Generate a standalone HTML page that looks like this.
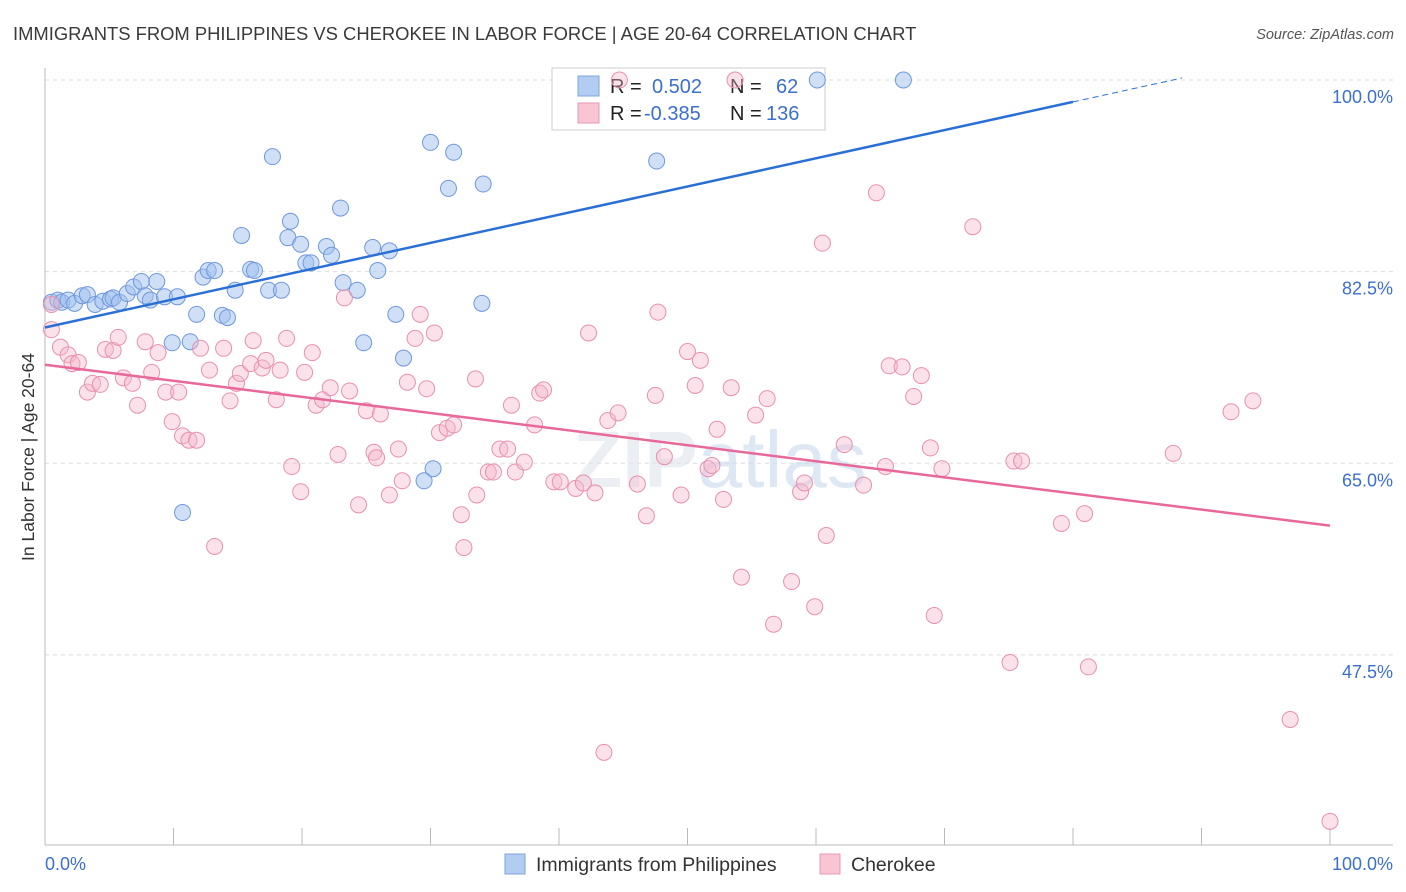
<!DOCTYPE html>
<html><head><meta charset="utf-8"><style>
body{margin:0;background:#fff;font-family:"Liberation Sans",sans-serif}
svg{display:block}
</style></head><body>
<svg id="chart" width="1406" height="892" xmlns="http://www.w3.org/2000/svg" font-family="Liberation Sans, sans-serif">
<text x="13" y="40" font-size="18.4" fill="#3a3a3a">IMMIGRANTS FROM PHILIPPINES VS CHEROKEE IN LABOR FORCE | AGE 20-64 CORRELATION CHART</text>
<text x="1394" y="39" font-size="14.5" fill="#555" text-anchor="end" font-style="italic">Source: ZipAtlas.com</text>
<g id="grid"></g>
<text x="720" y="487" font-size="80" text-anchor="middle" fill="#dfe3ea" font-weight="bold" opacity="0.6">ZIP<tspan fill="#c9daf0" font-weight="normal">atlas</tspan></text>
<g id="axes"></g>
<g>
<rect x="552" y="68" width="273" height="62" fill="#fff" stroke="#ccc"/>
<rect x="578" y="76" width="21" height="20" fill="#b3cdf2" stroke="#7ba3e0"/>
<rect x="578" y="103" width="21" height="20" fill="#f9c4d4" stroke="#e899b4"/>
<text x="610" y="93" font-size="20" fill="#222">R = <tspan fill="#3b6fd0" x="652">0.502</tspan><tspan fill="#222" x="730">N =</tspan><tspan fill="#3b6fd0" x="776">62</tspan></text>
<text x="610" y="120" font-size="20" fill="#222">R = <tspan fill="#3b6fd0" x="644">-0.385</tspan><tspan fill="#222" x="730">N =</tspan><tspan fill="#3b6fd0" x="766">136</tspan></text>
</g>
<g id="pts"></g>
<g id="trend"></g>
<text transform="translate(34,457) rotate(-90)" font-size="17.5" fill="#333" text-anchor="middle">In Labor Force | Age 20-64</text>
<g>
<rect x="505" y="854" width="20" height="20" fill="#b3cdf2" stroke="#7ba3e0"/>
<text x="536" y="871" font-size="19.5" fill="#333">Immigrants from Philippines</text>
<rect x="820" y="854" width="20" height="20" fill="#f9c4d4" stroke="#e899b4"/>
<text x="851" y="871" font-size="19.5" fill="#333">Cherokee</text>
</g>
</svg>
<script>
const yTicks=[100,82.5,65,47.5];
const yTickLabels=["100.0%","82.5%","65.0%","47.5%"];
const xTicks=[0,10,20,30,40,50,60,70,80,90,100];
const blueX=[0.5,1.0,1.3,1.8,2.3,2.9,3.3,3.9,4.5,5.1,5.3,5.8,6.4,6.9,7.5,7.8,8.2,8.7,9.3,10.3,9.9,11.3,11.8,12.3,12.7,13.2,13.8,14.2,14.8,15.3,16.0,16.3,17.4,17.7,18.4,18.9,19.1,19.9,20.3,20.7,21.9,22.3,23.0,23.2,24.3,24.8,25.5,25.9,26.8,27.3,27.9,29.5,30.2,30.0,31.4,31.8,34.1,34.0,47.6,60.1,66.8,10.7];
const blueY=[79.7,79.9,79.7,79.9,79.6,80.3,80.4,79.5,79.8,80.0,80.1,79.7,80.5,81.1,81.6,80.3,79.9,81.6,80.2,80.2,76.0,76.1,78.6,82.0,82.6,82.6,78.5,78.3,80.8,85.8,82.7,82.6,80.8,93.0,80.8,85.6,87.1,85.0,83.3,83.3,84.8,84.0,88.3,81.5,80.8,76.0,84.7,82.6,84.4,78.6,74.6,63.4,64.5,94.3,90.1,93.4,90.5,79.6,92.6,100.0,100.0,60.5];
const pinkX=[0.5,1.2,1.8,2.1,2.6,3.3,3.7,4.3,4.7,5.3,5.7,6.1,6.8,7.2,7.8,8.3,8.8,9.4,9.9,10.4,10.7,11.2,11.8,12.1,12.8,13.2,13.9,14.4,14.9,15.2,16.0,16.2,16.9,17.2,18.0,18.3,18.8,19.2,19.9,20.2,20.8,21.1,21.6,22.2,22.8,23.3,23.7,24.4,25.0,25.6,25.8,26.1,26.8,27.5,27.8,28.2,28.8,29.2,29.7,30.3,30.7,31.3,31.8,32.4,32.6,33.5,33.6,34.5,34.9,35.4,36.0,36.3,36.6,37.3,38.1,38.5,38.8,39.6,40.1,41.3,41.9,42.3,42.8,43.8,44.6,46.8,46.1,47.5,47.7,48.2,49.5,50.0,50.6,51.0,51.6,51.9,52.3,52.8,53.4,54.2,55.3,56.2,56.7,58.1,58.8,59.1,59.9,60.5,60.8,62.2,63.7,64.7,65.4,65.7,66.7,67.6,68.2,68.9,69.2,69.8,72.2,75.1,75.4,76.0,79.1,80.9,81.2,87.8,92.3,94.0,96.9,100.0,43.5,44.7,53.7,0.5];
const pinkY=[77.2,75.6,74.9,74.1,74.2,71.5,72.3,72.2,75.4,75.3,76.5,72.8,72.3,70.3,76.1,73.3,75.1,71.5,68.8,71.5,67.5,67.1,67.1,75.5,73.5,57.4,75.5,70.7,72.3,73.2,74.1,76.2,73.7,74.4,70.8,73.5,76.4,64.7,62.4,73.3,75.1,70.3,70.8,71.9,65.8,80.1,71.6,61.2,69.8,66.0,65.5,69.5,62.1,66.3,63.4,72.4,76.4,78.6,71.8,76.9,67.8,68.2,68.5,60.3,57.3,72.7,62.1,64.2,64.2,66.3,66.3,70.3,64.2,65.1,68.5,71.4,71.7,63.3,63.3,62.7,63.2,76.9,62.3,68.9,69.6,60.2,63.1,71.2,78.8,65.6,62.1,75.2,72.1,74.4,64.5,64.8,68.1,61.7,71.9,54.6,69.4,70.9,50.3,54.2,62.4,63.2,51.9,85.1,58.4,66.7,63.0,89.7,64.7,73.9,73.8,71.1,73.0,66.4,51.1,64.5,86.6,46.8,65.2,65.2,59.5,60.4,46.4,65.9,69.7,70.7,41.6,32.3,38.6,100.0,100.0,79.5];
const blueTrend=[77.4,0.2575];
const pinkTrend=[74.0,-0.147];
const NS="http://www.w3.org/2000/svg";
const X=v=>45+v*12.85, Y=v=>80+(100-v)*10.95;
function mk(t,a,p){const e=document.createElementNS(NS,t);for(const k in a)e.setAttribute(k,a[k]);p.appendChild(e);return e;}
const grid=document.getElementById('grid'),axes=document.getElementById('axes'),pts=document.getElementById('pts'),tr=document.getElementById('trend');
yTicks.forEach((v,i)=>{
 const l=mk('line',{x1:45,x2:1393,y1:Y(v),y2:Y(v),stroke:'#ddd','stroke-dasharray':'4,4'},grid);
 
 
 const t=mk('text',{x:1393,y:Y(v)+23,'font-size':18,fill:'#3b6fd0','text-anchor':'end'},axes);
 t.textContent=yTickLabels[i];
 
 
});
const ya=mk('line',{x1:45,x2:45,y1:68,y2:845,stroke:'#bbb'},axes);


const xa=mk('line',{x1:45,x2:1393,y1:845,y2:845,stroke:'#bbb'},axes);


xTicks.forEach(v=>{const t=mk('line',{x1:X(v),x2:X(v),y1:828,y2:845,stroke:'#bbb'},axes);
 
 });
[[0,"0.0%",'start',45],[100,"100.0%",'end',1393]].forEach(a=>{const t=mk('text',{x:a[3],y:870,'font-size':18,fill:'#3b6fd0','text-anchor':a[2]},axes);t.textContent=a[1];
 
 });
blueX.forEach((x,i)=>{const c=mk('circle',{cx:X(x),cy:Y(blueY[i]),r:8,fill:'rgba(160,192,238,0.5)',stroke:'#6f98dc','stroke-width':1},pts);
 
 });
pinkX.forEach((x,i)=>{const c=mk('circle',{cx:X(x),cy:Y(pinkY[i]),r:8,fill:'rgba(245,182,202,0.4)',stroke:'#e890ae','stroke-width':1},pts);
 
 });
const b1=mk('line',{x1:X(0),y1:Y(blueTrend[0]),x2:X(80),y2:Y(blueTrend[0]+blueTrend[1]*80),stroke:'#2a6fd6','stroke-width':2.5},tr);


const b2=mk('line',{x1:X(80),y1:Y(blueTrend[0]+blueTrend[1]*80),x2:X(88.5),y2:Y(blueTrend[0]+blueTrend[1]*88.5),stroke:'#2a6fd6','stroke-width':1,'stroke-dasharray':'6,4'},tr);


const p1=mk('line',{x1:X(0),y1:Y(pinkTrend[0]),x2:X(100),y2:Y(pinkTrend[0]+pinkTrend[1]*100),stroke:'#e8689a','stroke-width':2.5},tr);


</script>
</body></html>
